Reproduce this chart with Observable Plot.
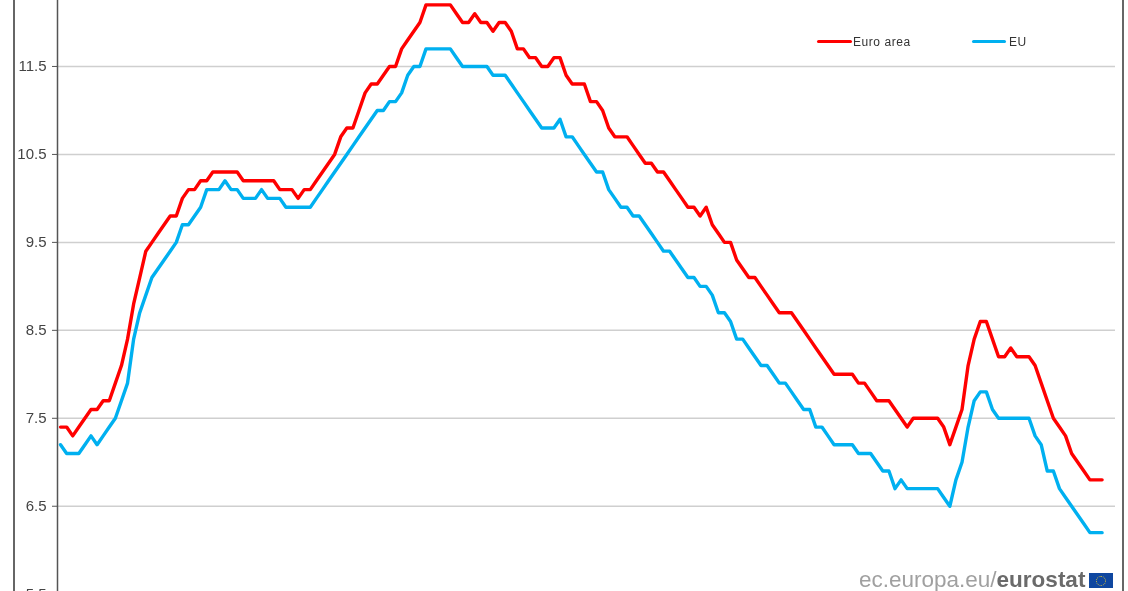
<!DOCTYPE html>
<html>
<head>
<meta charset="utf-8">
<script src="https://cdn.jsdelivr.net/npm/d3@7"></script>
<script src="https://cdn.jsdelivr.net/npm/@observablehq/plot@0.6"></script>
<style>
html,body{margin:0;padding:0;background:#fff;overflow:hidden;width:1128px;height:591px;}
#stage{position:relative;width:1128px;height:591px;overflow:hidden;font-family:"Liberation Sans",Arial,sans-serif;}
#stage svg.chart{display:block;}
#frame{position:absolute;left:13px;top:0;width:1107px;height:591px;border-left:2px solid #666;border-right:2px solid #666;}
.sw{position:absolute;height:3px;border-radius:1.5px;top:40px;}
.lg{position:absolute;top:35px;font-size:12px;line-height:14px;color:#333;letter-spacing:.55px;white-space:nowrap;filter:blur(0.3px);}
#src{position:absolute;left:859px;top:570px;font-size:22.5px;line-height:20px;color:#a0a0a0;white-space:nowrap;filter:blur(0.35px);}
#src b{color:#6a6a6a;}
#flag{position:absolute;left:1089px;top:573px;width:24px;height:15px;background:#0f47a0;}
#flag i{position:absolute;left:7px;top:2.5px;width:8px;height:8px;border:1px dotted #d8c23a;border-radius:50%;}
</style>
</head>
<body>
<div id="stage"></div>
<script>
const euroArea = [
7.4,7.4,7.3,7.4,7.5,7.6,7.6,7.7,7.7,7.9,
8.1,8.4,8.8,9.1,9.4,9.5,9.6,9.7,9.8,9.8,
10.0,10.1,10.1,10.2,10.2,10.3,10.3,10.3,10.3,10.3,
10.2,10.2,10.2,10.2,10.2,10.2,10.1,10.1,10.1,10.0,
10.1,10.1,10.2,10.3,10.4,10.5,10.7,10.8,10.8,11.0,
11.2,11.3,11.3,11.4,11.5,11.5,11.7,11.8,11.9,12.0,
12.2,12.2,12.2,12.2,12.2,12.1,12.0,12.0,12.1,12.0,
12.0,11.9,12.0,12.0,11.9,11.7,11.7,11.6,11.6,11.5,
11.5,11.6,11.6,11.4,11.3,11.3,11.3,11.1,11.1,11.0,
10.8,10.7,10.7,10.7,10.6,10.5,10.4,10.4,10.3,10.3,
10.2,10.1,10.0,9.9,9.9,9.8,9.9,9.7,9.6,9.5,
9.5,9.3,9.2,9.1,9.1,9.0,8.9,8.8,8.7,8.7,
8.7,8.6,8.5,8.4,8.3,8.2,8.1,8.0,8.0,8.0,
8.0,7.9,7.9,7.8,7.7,7.7,7.7,7.6,7.5,7.4,
7.5,7.5,7.5,7.5,7.5,7.4,7.2,7.4,7.6,8.1,
8.4,8.6,8.6,8.4,8.2,8.2,8.3,8.2,8.2,8.2,
8.1,7.9,7.7,7.5,7.4,7.3,7.1,7.0,6.9,6.8,6.8,6.8
];
const eu = [
7.2,7.1,7.1,7.1,7.2,7.3,7.2,7.3,7.4,7.5,
7.7,7.9,8.4,8.7,8.9,9.1,9.2,9.3,9.4,9.5,
9.7,9.7,9.8,9.9,10.1,10.1,10.1,10.2,10.1,10.1,
10.0,10.0,10.0,10.1,10.0,10.0,10.0,9.9,9.9,9.9,
9.9,9.9,10.0,10.1,10.2,10.3,10.4,10.5,10.6,10.7,
10.8,10.9,11.0,11.0,11.1,11.1,11.2,11.4,11.5,11.5,
11.7,11.7,11.7,11.7,11.7,11.6,11.5,11.5,11.5,11.5,
11.5,11.4,11.4,11.4,11.3,11.2,11.1,11.0,10.9,10.8,
10.8,10.8,10.9,10.7,10.7,10.6,10.5,10.4,10.3,10.3,
10.1,10.0,9.9,9.9,9.8,9.8,9.7,9.6,9.5,9.4,
9.4,9.3,9.2,9.1,9.1,9.0,9.0,8.9,8.7,8.7,
8.6,8.4,8.4,8.3,8.2,8.1,8.1,8.0,7.9,7.9,
7.8,7.7,7.6,7.6,7.4,7.4,7.3,7.2,7.2,7.2,
7.2,7.1,7.1,7.1,7.0,6.9,6.9,6.7,6.8,6.7,
6.7,6.7,6.7,6.7,6.7,6.6,6.5,6.8,7.0,7.4,
7.7,7.8,7.8,7.6,7.5,7.5,7.5,7.5,7.5,7.5,
7.3,7.2,6.9,6.9,6.7,6.6,6.5,6.4,6.3,6.2,6.2,6.2
];
const tickValues = [5.5,6.5,7.5,8.5,9.5,10.5,11.5];
const seriesNames = ["Euro area","EU"];
const seriesColors = ["#ff0000","#00b0f0"];

const idx = (d,i)=>i;
const chart = Plot.plot({
  width:1128, height:591,
  marginLeft:57, marginRight:13, marginTop:0, marginBottom:0,
  x:{domain:[-0.5,173.2], axis:null},
  y:{domain:[5.5,12.25], range:[593.7,0]},
  marks:[
    Plot.ruleY(tickValues,{stroke:"#cfcfcf",strokeWidth:1.5}),
    Plot.axisY({ticks:tickValues,tickFormat:".1f",tickSize:5,tickPadding:6,label:null,stroke:"#555",fill:"#444",fontSize:15}),
    Plot.ruleX([-0.5],{stroke:"#555",strokeWidth:1.5}),
    Plot.line(euroArea,{x:idx,y:d=>d,stroke:seriesColors[0],strokeWidth:3.4,strokeLinejoin:"round",curve:"linear"}),
    Plot.line(eu,{x:idx,y:d=>d,stroke:seriesColors[1],strokeWidth:3.4,strokeLinejoin:"round",curve:"linear"})
  ]
});
chart.classList.add("chart");
chart.style.fontFamily='"Liberation Sans",Arial,sans-serif';
chart.style.filter="blur(0.45px)";
const stage=document.getElementById("stage");
stage.appendChild(chart);
stage.insertAdjacentHTML("beforeend",`
<div id="frame"></div>
<div class="sw" style="left:817px;width:35px;background:${seriesColors[0]}"></div>
<div class="lg" style="left:853px">${seriesNames[0]}</div>
<div class="sw" style="left:972px;width:34px;background:${seriesColors[1]}"></div>
<div class="lg" style="left:1009px">${seriesNames[1]}</div>
<div id="src">ec.europa.eu/<b>eurostat</b></div>
<div id="flag"><i></i></div>`);
</script>
</body>
</html>
